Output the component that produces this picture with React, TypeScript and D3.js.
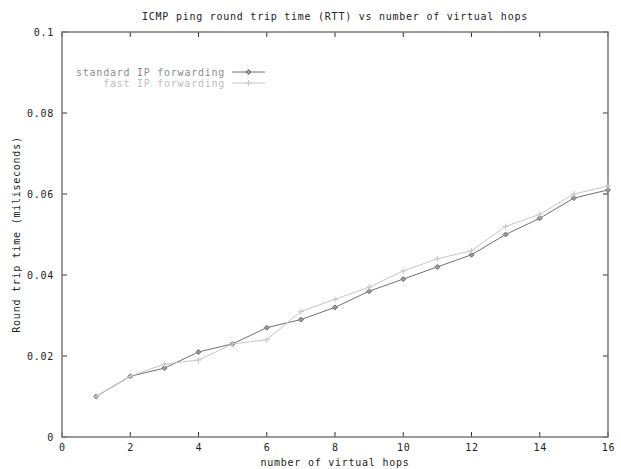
import React from "react";
import * as d3 from "d3";

const hops = [1, 2, 3, 4, 5, 6, 7, 8, 9, 10, 11, 12, 13, 14, 15, 16];
const standardRTT = [0.010, 0.015, 0.017, 0.021, 0.023, 0.027, 0.029, 0.032, 0.036, 0.039, 0.042, 0.045, 0.050, 0.054, 0.059, 0.061];
const fastRTT = [0.010, 0.015, 0.018, 0.019, 0.023, 0.024, 0.031, 0.034, 0.037, 0.041, 0.044, 0.046, 0.052, 0.055, 0.060, 0.062];
const xTicks = [0, 2, 4, 6, 8, 10, 12, 14, 16];
const yTicks = [0, 0.02, 0.04, 0.06, 0.08, 0.1];
const seriesNames = ["standard IP forwarding", "fast IP forwarding"];

const W = 621, H = 469;
const L = 62, R = 608, T = 32, B = 437;
const font = "'DejaVu Sans Mono', monospace";
const LS = 0.75;

export default function App() {
  const x = d3.scaleLinear().domain([0, 16]).range([L, R]);
  const y = d3.scaleLinear().domain([0, 0.1]).range([B, T]);
  const line = d3.line<[number, number]>().x(d => x(d[0])).y(d => y(d[1]));
  const std: [number, number][] = hops.map((h, i) => [h, standardRTT[i]]);
  const fst: [number, number][] = hops.map((h, i) => [h, fastRTT[i]]);
  const stdColor = "#707070";
  const fastColor = "#c6c6c6";
  const diamond = (cx: number, cy: number, c: string, k: string) => (
    <path key={k} d={`M${cx},${cy - 2.5}L${cx + 2.5},${cy}L${cx},${cy + 2.5}L${cx - 2.5},${cy}Z`} fill="#999" stroke={c} strokeWidth={1} />
  );
  const plus = (cx: number, cy: number, c: string, k: string) => (
    <path key={k} d={`M${cx - 3},${cy}H${cx + 3}M${cx},${cy - 3}V${cy + 3}`} stroke={c} strokeWidth={1} />
  );
  const yFmt = (v: number) => (v === 0 ? "0" : String(+v.toFixed(2)));
  const txt = { fontFamily: font, fontSize: 10, letterSpacing: LS } as const;
  return (
    <svg width={W} height={H} style={{ position: "absolute", left: 0, top: 0, background: "#fff" }}>
      <rect x={0} y={0} width={W} height={H} fill="#fff" />
      <text x={335} y={20} textAnchor="middle" {...txt} fill="#222">
        ICMP ping round trip time (RTT) vs number of virtual hops
      </text>
      {xTicks.map(t => (
        <g key={"xt" + t}>
          <line x1={x(t)} x2={x(t)} y1={B} y2={B - 5} stroke="#333" />
          <line x1={x(t)} x2={x(t)} y1={T} y2={T + 5} stroke="#333" />
          <text x={x(t) + 0.4} y={451} textAnchor="middle" {...txt} fill="#222">{t}</text>
        </g>
      ))}
      {yTicks.map(t => (
        <g key={"yt" + t}>
          <line x1={L} x2={L + 5} y1={y(t)} y2={y(t)} stroke="#333" />
          <line x1={R} x2={R - 5} y1={y(t)} y2={y(t)} stroke="#333" />
          <text x={54} y={y(t) + 3.5} textAnchor="end" {...txt} fill="#222">{yFmt(t)}</text>
        </g>
      ))}
      <rect x={L} y={T} width={R - L} height={B - T} fill="none" stroke="#7a7a7a" strokeWidth={1.5} />
      <text x={335} y={466} textAnchor="middle" {...txt} fill="#222">number of virtual hops</text>
      <text transform={`translate(20,${(T + B) / 2}) rotate(-90)`} textAnchor="middle" {...txt} fill="#222">
        Round trip time (miliseconds)
      </text>
      <text x={225} y={76} textAnchor="end" {...txt} fill="#8c8c8c">{seriesNames[0]}</text>
      <line x1={232} x2={265} y1={72} y2={72} stroke={stdColor} />
      {diamond(248.5, 72, stdColor, "ld")}
      <text x={225} y={87} textAnchor="end" {...txt} fill="#bdbdbd">{seriesNames[1]}</text>
      <line x1={232} x2={265} y1={83} y2={83} stroke={fastColor} />
      {plus(248.5, 83, fastColor, "lp")}
      <path d={line(std) || ""} fill="none" stroke={stdColor} strokeWidth={1} />
      {std.map((d, i) => diamond(x(d[0]), y(d[1]), stdColor, "s" + i))}
      <path d={line(fst) || ""} fill="none" stroke={fastColor} strokeWidth={1} />
      {fst.map((d, i) => plus(x(d[0]), y(d[1]), fastColor, "f" + i))}
    </svg>
  );
}
